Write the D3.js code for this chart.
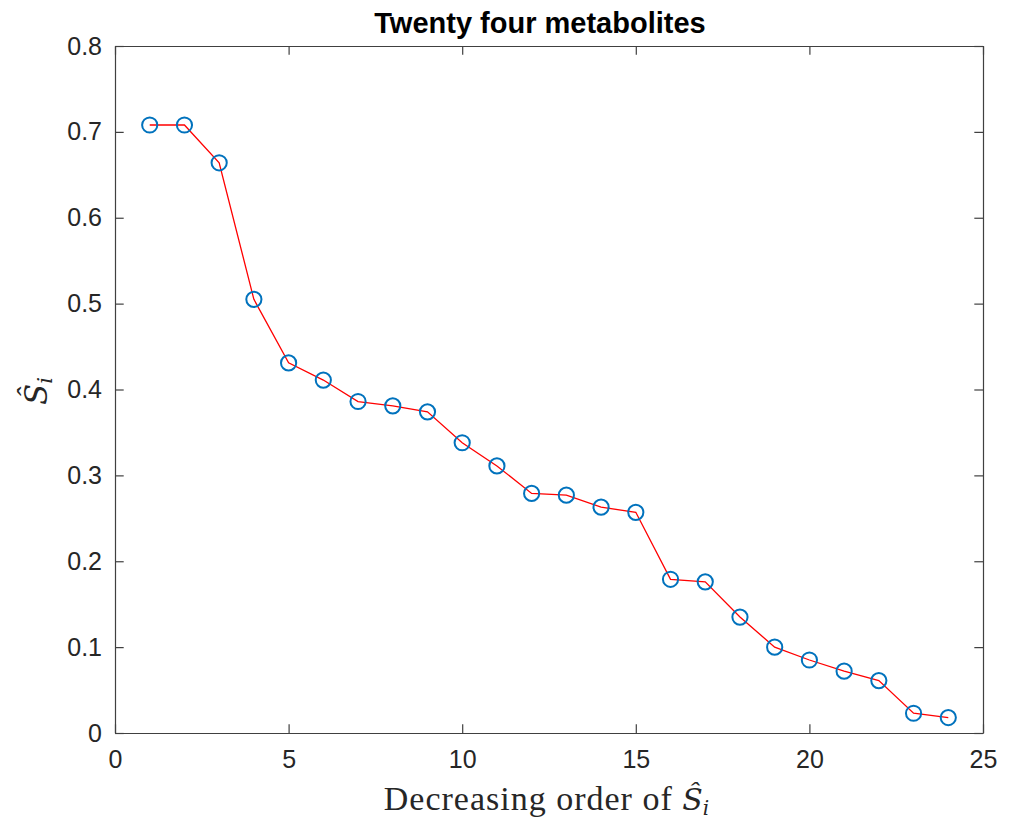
<!DOCTYPE html>
<html lang="en">
<head>
  <meta charset="UTF-8">
  <title>Twenty four metabolites</title>
  <script src="https://d3js.org/d3.v7.min.js"></script>
  <style>
    body { margin: 0; background: #fff; }
    .tick text { font-family: "Liberation Sans", Arial, sans-serif; font-size: 25px; fill: #262626; }
    .axis path, .axis line { stroke: #404040; stroke-width: 1.2; }
    .math { font-family: "DejaVu Serif", serif; font-style: italic; }
  </style>
</head>
<body>
<div class="main"></div>
<script>
  // rank order and estimated S-hat values
  var ranks = d3.range(1, 25);
  var sHat = [0.708, 0.708, 0.664, 0.505, 0.431, 0.411, 0.386, 0.381, 0.374, 0.338,
              0.311, 0.279, 0.277, 0.263, 0.257, 0.179, 0.176, 0.135, 0.100, 0.085,
              0.072, 0.061, 0.023, 0.018];
  var xTicks = [0, 5, 10, 15, 20, 25];
  var yTicks = [0, 0.1, 0.2, 0.3, 0.4, 0.5, 0.6, 0.7, 0.8];

  let width = 1014, height = 819;
  let mLeft = 115, mRight = 983, mTop = 46, mBottom = 733;

  let svg = d3.select(".main").append("svg")
          .attr("width", width)
          .attr("height", height);

  let xScale = d3.scaleLinear().domain([0, 25]).range([mLeft, mRight]);
  let yScale = d3.scaleLinear().domain([0, 0.8]).range([mBottom, mTop]);

  let tickLen = 8.7;

  function draw(axis, translate) {
    svg.append("g").attr("class", "axis")
            .attr("transform", translate)
            .call(axis);
  }

  draw(d3.axisBottom(xScale).tickValues(xTicks).tickSizeInner(-tickLen).tickSizeOuter(0).tickPadding(17), `translate(0,${mBottom})`);
  draw(d3.axisTop(xScale).tickValues(xTicks).tickSizeInner(-tickLen).tickSizeOuter(0).tickFormat(""), `translate(0,${mTop})`);
  draw(d3.axisLeft(yScale).tickValues(yTicks).tickSizeInner(-tickLen).tickSizeOuter(0).tickPadding(13).tickFormat(d => d === 0 ? "0" : d3.format(".1f")(d)), `translate(${mLeft},0)`);
  draw(d3.axisRight(yScale).tickValues(yTicks).tickSizeInner(-tickLen).tickSizeOuter(0).tickFormat(""), `translate(${mRight},0)`);

  let points = ranks.map((r, i) => [r, sHat[i]]);

  let line = d3.line()
          .x(d => xScale(d[0]))
          .y(d => yScale(d[1]));

  svg.append("path")
          .datum(points)
          .attr("d", line)
          .style("fill", "none")
          .style("stroke", "#ff0000")
          .style("stroke-width", 1.3);

  svg.append("g").selectAll("circle")
          .data(points)
          .join("circle")
          .attr("cx", d => xScale(d[0]))
          .attr("cy", d => yScale(d[1]))
          .attr("r", 7.6)
          .style("fill", "none")
          .style("stroke", "#0072bd")
          .style("stroke-width", 2);

  // title
  svg.append("text")
          .attr("x", 540).attr("y", 33)
          .attr("text-anchor", "middle")
          .style("font-family", "'Liberation Sans', Arial, sans-serif")
          .style("font-weight", "bold")
          .style("font-size", "29px")
          .style("fill", "#000")
          .text("Twenty four metabolites");

  // x label
  let xl = svg.append("text")
          .attr("x", 547).attr("y", 810)
          .attr("text-anchor", "middle")
          .style("font-family", "'Liberation Serif', 'Times New Roman', serif")
          .style("font-size", "34px")
          .style("letter-spacing", "1px")
          .style("fill", "#262626");
  xl.append("tspan").text("Decreasing order of ");
  xl.append("tspan").attr("class", "math").style("font-size", "30px").style("letter-spacing", "0px").text("Ŝ");
  xl.append("tspan").attr("class", "math").style("font-size", "20px").attr("dy", 5).text("i");

  // y label
  let yl = svg.append("text")
          .attr("transform", "translate(47,391) rotate(-90)")
          .attr("text-anchor", "middle")
          .style("fill", "#262626");
  yl.append("tspan").attr("class", "math").style("font-size", "31px").text("Ŝ");
  yl.append("tspan").attr("class", "math").style("font-size", "21px").attr("dy", 5).text("i");
</script>
</body>
</html>
